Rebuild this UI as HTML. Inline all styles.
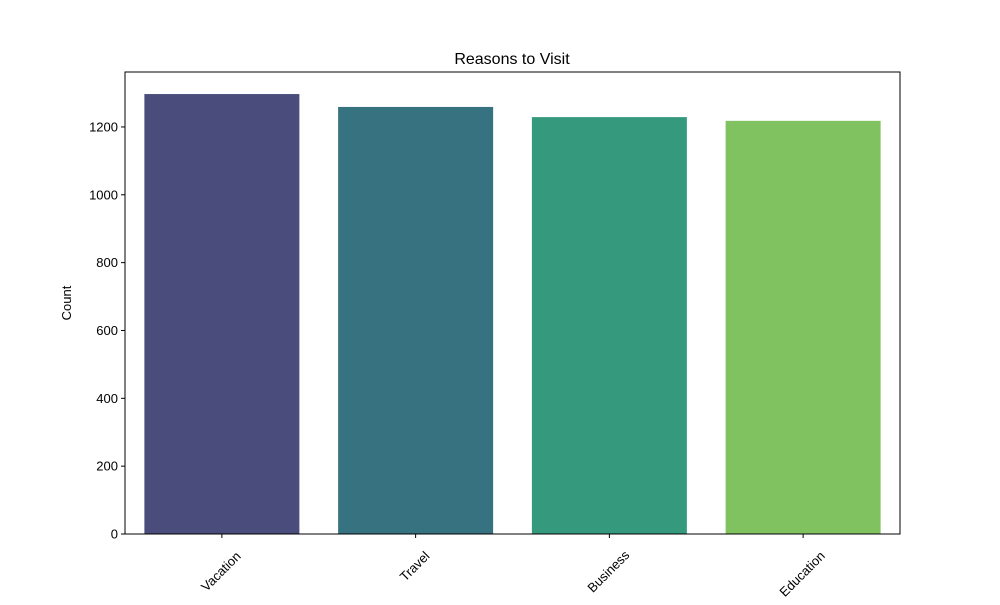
<!DOCTYPE html>
<html><head><meta charset="utf-8"><style>
body{margin:0;background:#fff;}
svg{font-family:"Liberation Sans","DejaVu Sans",sans-serif;}
</style></head><body>
<svg id="chart" width="1000" height="600">
<rect width="1000" height="600" fill="#fff"/>
<text x="512" y="64" text-anchor="middle" font-size="16">Reasons to Visit</text>
<text transform="translate(71,303) rotate(-90)" text-anchor="middle" font-size="13">Count</text>
<g id="bars"></g><g id="yt"></g><g id="xt"></g>
<rect x="125" y="72" width="775" height="462" fill="none" stroke="#000" stroke-width="1"/>
</svg>
<script>
const categories=["Vacation","Travel","Business","Education"];
const counts=[1297,1259,1229,1218];
const colors=["#4a4d7c","#367280","#35997d","#80c260"];
const yTicks=[0,200,400,600,800,1000,1200];
const L=125,R=900,T=72,B=534,yMax=1362;
const ns="http://www.w3.org/2000/svg";
const y=v=>B-(v/yMax)*(B-T);
const x=i=>L+(i+0.5)*(R-L)/categories.length;
const bw=0.8*(R-L)/categories.length;
function mk(t,a,p){const e=document.createElementNS(ns,t);for(const k in a)e.setAttribute(k,a[k]);p.appendChild(e);return e;}
const bars=document.getElementById('bars'),yt=document.getElementById('yt'),xt=document.getElementById('xt');
counts.forEach((v,i)=>{
 const r=mk('rect',{x:x(i)-bw/2,y:y(v),width:bw,height:B-y(v),fill:colors[i]},bars);
 
 
 const tk=mk('line',{x1:x(i),x2:x(i),y1:B,y2:B+4,stroke:'#000'},xt);
 
 
 const half=categories[i].length*3.6*0.707;
 const t=mk('text',{transform:`translate(${x(i)-1},${B+13+half+4}) rotate(-45)`,'text-anchor':'middle','font-size':'13','dominant-baseline':'central'},xt);
 t.textContent=categories[i];
 
 
});
yTicks.forEach(v=>{
 const tk=mk('line',{x1:L-4,x2:L,y1:y(v),y2:y(v),stroke:'#000'},yt);
 
 
 const t=mk('text',{x:L-7,y:y(v)+4.5,'text-anchor':'end','font-size':'13'},yt);
 t.textContent=v;
 
 
});
</script>
</body></html>
